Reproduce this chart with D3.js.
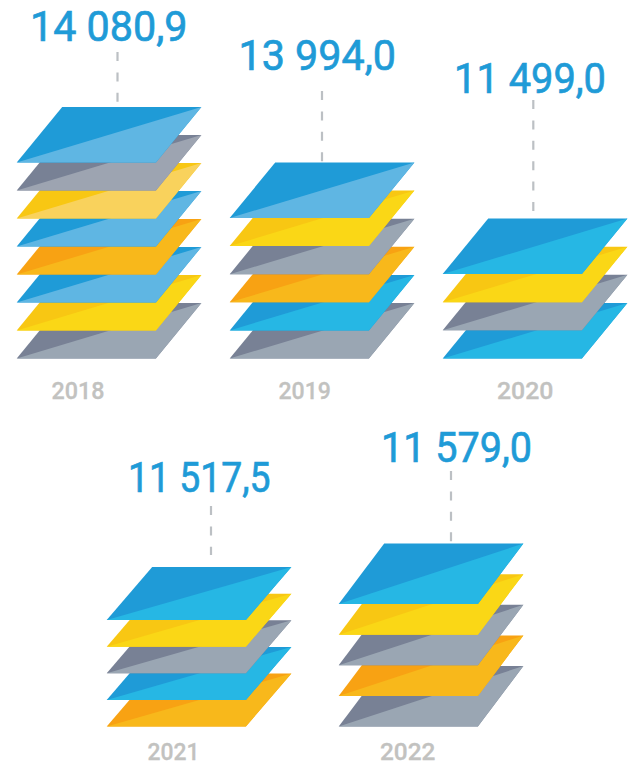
<!DOCTYPE html>
<html>
<head>
<meta charset="utf-8">
<script src="https://cdn.jsdelivr.net/npm/d3@7"></script>
<style>
html,body{margin:0;padding:0;background:#fff}
svg{display:block}
text{font-family:Roboto,"Open Sans",sans-serif}
</style>
</head>
<body>
<svg id="chart" width="633" height="765"></svg>
<script>
// Annual totals and the sheets stacked for each year, listed from the top sheet down.
const years = ["2018","2019","2020","2021","2022"];
const totals = [14080.9,13994.0,11499.0,11517.5,11579.0];
const sheets2018 = ["pale","slate","paleGold","pale","orange","pale","gold","steel"];
const sheets2019 = ["pale","gold","steel","orange","cyan","steel"];
const sheets2020 = ["cyan","gold","steel","cyan"];
const sheets2021 = ["cyan","gold","steel","cyan","orange"];
const sheets2022 = ["cyan","gold","steel","orange","steel"];
const stacks = [sheets2018,sheets2019,sheets2020,sheets2021,sheets2022];

// Sheet finishes: the shaded half above the diagonal and the lit half below it.
const finishes = {
  pale:{dark:"#1f9bd7",lit:"#5fb6e3"},
  cyan:{dark:"#1f9bd7",lit:"#26b7e4"},
  gold:{dark:"#f8c713",lit:"#fad716"},
  paleGold:{dark:"#f8c713",lit:"#f9d25c"},
  orange:{dark:"#f8a213",lit:"#f8b81b"},
  steel:{dark:"#788195",lit:"#9aa6b3"},
  slate:{dark:"#788195",lit:"#9da4b1"}
};

// Page placement of each stack and its captions.
const layout = [
  {x:16.7,  base:358.5, top:107,   depth:55.5, leadX:117.5, lead:[52,102],
   labelX:30, labelY:40.7, labelW:157.5, yearX:51.5,  yearY:398.5, yearW:53},
  {x:229.7, base:358.5, top:162.5, depth:55.5, leadX:322, lead:[91,162],
   labelX:238.5, labelY:70, labelW:157.5, yearX:278.5, yearY:398.5, yearW:52.5},
  {x:442.7, base:358.5, top:218.5, depth:55.5, leadX:533.3, lead:[100,211],
   labelX:454, labelY:93.3, labelW:152, yearX:497, yearY:398.5, yearW:56.5},
  {x:106.7, base:726.5, top:567,   depth:53,   leadX:211, lead:[506,555],
   labelX:128, labelY:491.7, labelW:142.5, yearX:147.5, yearY:759.5, yearW:52},
  {x:338.7, base:726.5, top:543.5, depth:60.5, leadX:451, lead:[471,542],
   labelX:381, labelY:461.7, labelW:151, yearX:380, yearY:759.5, yearW:55.5}
];
const sheetWidth = 139.2, sheetSkew = 45.5;

const formatTotal = v => d3.format(".1f")(v).replace(/^(\d+)(\d{3})\./, "$1 $2,");

const svg = d3.select("#chart");
const groups = svg.selectAll("g.year").data(years).join("g").attr("class","year");

groups.each(function(year,i){
  const g = d3.select(this), pos = layout[i], stack = stacks[i];
  const frontY = d3.scaleLinear().domain([0,stack.length-1]).range([pos.top+pos.depth,pos.base]);
  const line = d3.line();

  // Lowest sheet first so the upper ones overlap it.
  const order = d3.range(stack.length).reverse();
  const sheet = g.selectAll("g.sheet").data(order).join("g").attr("class","sheet");
  sheet.each(function(k){
    const y1 = frontY(k), y0 = y1-pos.depth, x0 = pos.x, x1 = x0+sheetWidth, s = sheetSkew;
    const f = finishes[stack[k]], sh = d3.select(this);
    // Full sheet in the shaded tone, then the lit half laid over it so no seam shows.
    sh.append("path")
      .attr("d",line([[x0,y1],[x0+s,y0],[x1+s,y0],[x1,y1]])+"Z")
      .attr("fill",f.dark);
    sh.append("path")
      .attr("d",line([[x0,y1],[x1+s,y0],[x1,y1]])+"Z")
      .attr("fill",f.lit);
  });

  g.append("line")
    .attr("x1",pos.leadX).attr("x2",pos.leadX)
    .attr("y1",pos.lead[0]).attr("y2",pos.lead[1])
    .attr("stroke","#bcc0c4").attr("stroke-width",2.2).attr("stroke-dasharray","9 11.4");

  g.append("text").attr("x",pos.labelX).attr("y",pos.labelY)
    .attr("font-size",43).attr("fill","#1f9bd7")
    .attr("stroke","#1f9bd7").attr("stroke-width",0.7)
    .attr("textLength",pos.labelW).attr("lengthAdjust","spacingAndGlyphs")
    .text(formatTotal(totals[i]));

  g.append("text").attr("x",pos.yearX).attr("y",pos.yearY)
    .attr("font-size",24.5).attr("font-weight",500).attr("fill","#c2c2c0")
    .attr("stroke","#c2c2c0").attr("stroke-width",0.3)
    .attr("textLength",pos.yearW).attr("lengthAdjust","spacingAndGlyphs")
    .text(year);
});
</script>
</body>
</html>
